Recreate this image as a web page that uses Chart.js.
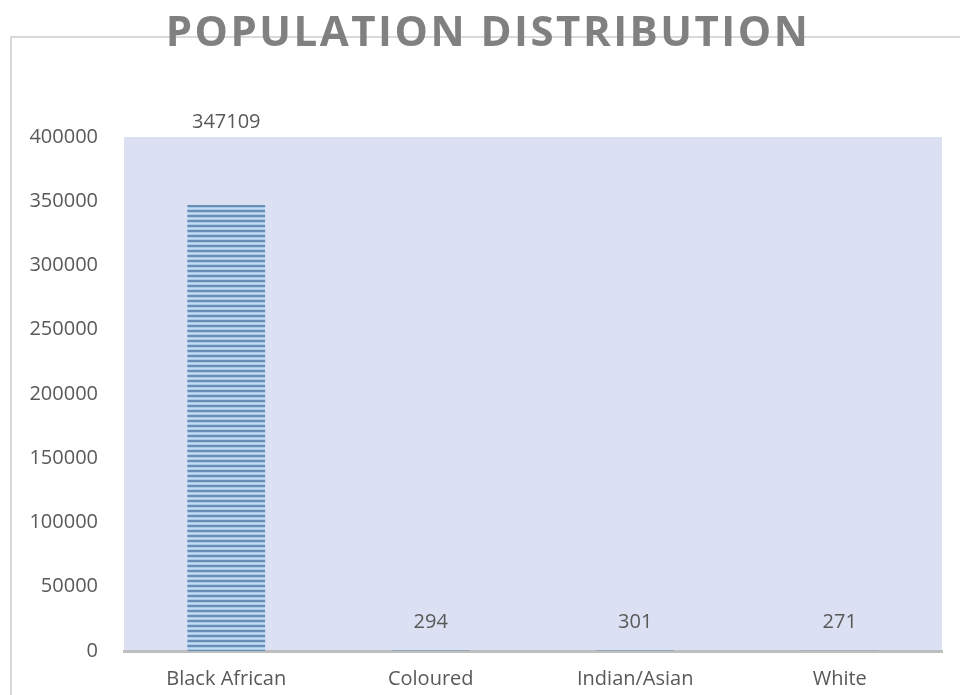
<!DOCTYPE html>
<html>
<head>
<meta charset="utf-8">
<script src="https://cdn.jsdelivr.net/npm/chart.js@4/dist/chart.umd.min.js"></script>
<style>
    html, body { margin: 0; padding: 0; background: #ffffff; }
    #wrap { position: relative; width: 960px; height: 695px; overflow: hidden; }
    #title {
        position: absolute; left: 8px; top: 2px; width: 960px; text-align: center;
        font: bold 42px 'Open Sans', sans-serif; color: #808080; letter-spacing: 2.5px;
        line-height: 56px; z-index: 2; pointer-events: none;
    }
    canvas { position: absolute; left: 0; top: 0; }
</style>
</head>
<body>
<div id="wrap">
    <div id="title">POPULATION DISTRIBUTION</div>
    <canvas id="popChart" width="960" height="695"></canvas>
</div>
<script>
// Chart data
const categories = ['Black African', 'Coloured', 'Indian/Asian', 'White'];
const population = [347109, 294, 301, 271];
const yTicks = [0, 50000, 100000, 150000, 200000, 250000, 300000, 350000, 400000];

const FONT = "'Open Sans', sans-serif";
const TEXT = '#595959';

// striped fill for the bars
function makeStripes() {
    const c = document.createElement('canvas');
    c.width = 8;
    c.height = 5;
    const g = c.getContext('2d');
    g.fillStyle = '#a8cae8';
    g.fillRect(0, 0, 8, 5);
    g.fillStyle = '#6a8db6';
    g.fillRect(0, 0, 8, 2);
    g.fillStyle = '#c2dcf2';
    g.fillRect(0, 3, 8, 1);
    return g.createPattern(c, 'repeat');
}

// outer frame + plot background
const framePlugin = {
    id: 'frame',
    beforeDraw(chart) {
        const ctx = chart.ctx;
        const a = chart.chartArea;
        ctx.save();
        ctx.strokeStyle = '#d9d9d9';
        ctx.lineWidth = 2;
        ctx.strokeRect(11, 37, 1200, 1200);
        ctx.fillStyle = '#dbe0f2';
        ctx.fillRect(a.left, a.top, a.right - a.left, a.bottom - a.top);
        ctx.restore();
    }
};

// value labels above bars
const valueLabels = {
    id: 'valueLabels',
    afterDatasetsDraw(chart, args, opts) {
        const ctx = chart.ctx;
        const meta = chart.getDatasetMeta(0);
        ctx.save();
        ctx.font = '20px ' + FONT;
        ctx.fillStyle = TEXT;
        ctx.textAlign = 'center';
        ctx.textBaseline = 'middle';
        meta.data.forEach((bar, i) => {
            const off = opts.offsets[i] || 28;
            ctx.fillText(String(population[i]), bar.x, bar.y - off);
        });
        ctx.restore();
    }
};

new Chart(document.getElementById('popChart'), {
    type: 'bar',
    data: {
        labels: categories,
        datasets: [{
            data: population,
            backgroundColor: makeStripes(),
            borderWidth: 0,
            categoryPercentage: 0.38,
            barPercentage: 1
        }]
    },
    plugins: [framePlugin, valueLabels],
    options: {
        responsive: false,
        animation: false,
        layout: { padding: { top: 137, right: 18, bottom: 0, left: 0 } },
        plugins: {
            legend: { display: false },
            tooltip: { enabled: false },
            valueLabels: { offsets: [83, 28, 28, 28] }
        },
        scales: {
            x: {
                grid: { display: false, drawTicks: false },
                border: { display: true, color: '#bfbfbf', width: 3 },
                ticks: { color: TEXT, font: { family: FONT, size: 20 }, padding: 16 },
                afterFit(s) { s.height = 44; }
            },
            y: {
                min: 0,
                max: 400000,
                grid: { display: false, drawTicks: false },
                border: { display: false },
                afterBuildTicks(s) { s.ticks = yTicks.map(v => ({ value: v })); },
                ticks: {
                    color: TEXT,
                    font: { family: FONT, size: 20 },
                    padding: 26,
                    callback: v => String(v)
                },
                afterFit(s) { s.width = 124; }
            }
        }
    }
});
</script>
</body>
</html>
